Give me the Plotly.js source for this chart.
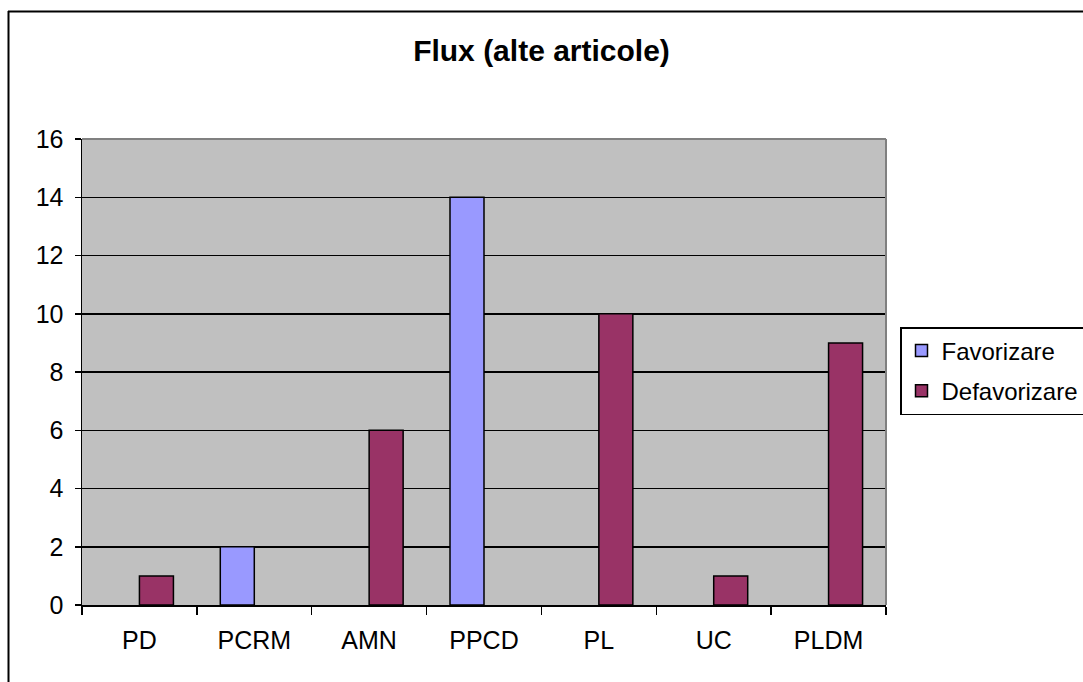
<!DOCTYPE html>
<html>
<head>
<meta charset="utf-8">
<script src="https://cdn.plot.ly/plotly-3.0.1.min.js"></script>
<style>html,body{margin:0;padding:0;background:#fff;}#chart{width:1083px;height:682px;}</style>
</head>
<body>
<div id="chart"></div>
<script>
const categories = ["PD", "PCRM", "AMN", "PPCD", "PL", "UC", "PLDM"];
const favorizare = [null, 2, null, 14, null, null, null];
const defavorizare = [1, null, 6, null, 10, 1, 9];
const yTicks = [0, 2, 4, 6, 8, 10, 12, 14, 16];

const W = 1083, H = 682;
const L = 82, R = 886, T = 139, B = 605;
const px = x => (x - L) / (R - L);
const py = y => (B - y) / (B - T);
const FONT = 'Liberation Sans, Arial, sans-serif';

const traces = [
  {type: 'bar', name: 'Favorizare', x: categories, y: favorizare, legendgroup: 'a',
   marker: {color: '#9999FF', line: {color: '#000', width: 1.5}}},
  {type: 'bar', name: 'Defavorizare', x: categories, y: defavorizare, legendgroup: 'b',
   marker: {color: '#993366', line: {color: '#000', width: 1.5}}}
];

const layout = {
  width: W, height: H,
  margin: {l: L, r: W - R, t: T, b: H - B, pad: 0, autoexpand: false},
  paper_bgcolor: '#fff', plot_bgcolor: '#C0C0C0',
  font: {family: FONT, size: 25, color: '#000'},
  title: {text: '<b>Flux (alte articole)</b>', x: 0.5, xanchor: 'center', y: 1 - 50/H, yanchor: 'middle',
          font: {size: 30, family: FONT, color: '#000'}},
  barmode: 'group', bargap: 0.408, bargroupgap: 0,
  showlegend: true,
  legend: {x: px(900), xanchor: 'left', y: py(327), yanchor: 'top',
           bordercolor: '#000', borderwidth: 1.5, bgcolor: '#fff',
           font: {size: 24, family: FONT}, itemwidth: 30, tracegroupgap: 6, traceorder: 'grouped'},
  xaxis: {type: 'category', showgrid: false, showline: true, linecolor: '#000', linewidth: 1.5,
          ticks: 'outside', tickson: 'boundaries', ticklen: 8, tickcolor: '#000', tickwidth: 1.5,
          tickfont: {size: 25, family: FONT}, ticklabelstandoff: 12, fixedrange: true},
  yaxis: {range: [0, 16], tickvals: yTicks, showgrid: true, gridcolor: '#000', gridwidth: 1.5,
          showline: true, linecolor: '#000', linewidth: 1.5, ticks: 'outside', ticklen: 6,
          tickcolor: '#000', tickwidth: 1.5, tickfont: {size: 25, family: FONT}, ticklabelstandoff: 6,
          zeroline: false, fixedrange: true},
  shapes: [
    {type: 'line', xref: 'paper', yref: 'paper', x0: px(L), x1: px(R), y0: 1, y1: 1, line: {color: '#808080', width: 2}},
    {type: 'line', xref: 'paper', yref: 'paper', x0: 1, x1: 1, y0: 0, y1: 1, line: {color: '#808080', width: 2}},
    {type: 'line', xref: 'paper', yref: 'paper', x0: px(8.5), x1: px(8.5), y0: py(11), y1: py(700), line: {color: '#000', width: 2}},
    {type: 'line', xref: 'paper', yref: 'paper', x0: px(8), x1: px(1100), y0: py(11.5), y1: py(11.5), line: {color: '#000', width: 2}}
  ]
};

Plotly.newPlot('chart', traces, layout, {displayModeBar: false, staticPlot: true});
</script>
</body>
</html>
